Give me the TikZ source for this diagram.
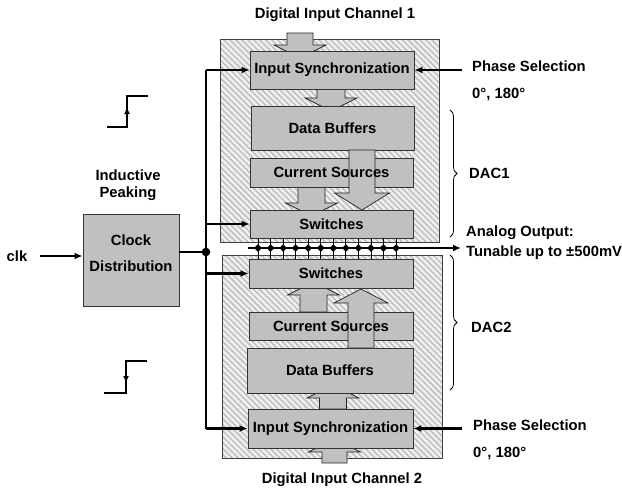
\documentclass[tikz,border=0pt]{standalone}
\usepackage{fontspec}
\setmainfont{Liberation Sans}
\usetikzlibrary{arrows.meta,patterns.meta,decorations.pathreplacing}
\definecolor{boxgray}{HTML}{C0C0C0}
\newcommand\blkarrow[6]{\draw[blk] ({#1-#5},{#2}) -- ({#1-#5},{#3}) -- ({#1-#6},{#3}) -- ({#1},{#4}) -- ({#1+#6},{#3}) -- ({#1+#5},{#3}) -- ({#1+#5},{#2}) -- cycle;}
\begin{document}
\begin{tikzpicture}[x=1pt,y=-1pt,
  every node/.style={font=\fontsize{14.8}{17.5}\selectfont\bfseries},
  outer/.style={draw=black!75, line width=0.8pt, preaction={fill=gray!12},
     pattern={Lines[angle=-45,distance=4.2pt,line width=1.5pt]}, pattern color=gray!50,
     inner sep=0, minimum width=#1},
  box/.style={draw=black!80, line width=0.8pt, fill=boxgray, inner sep=0},
  blk/.style={draw=black!85, line width=0.7pt, fill=boxgray, line join=miter},
  wire/.style={line width=2.3pt, -{Latex[length=8pt,width=7pt]}},
  thinwire/.style={line width=2.3pt},
  brace/.style={decorate, decoration={brace, amplitude=7pt}, line width=0.8pt},
  txt/.style={anchor=west, inner sep=0}]
\useasboundingbox[fill=white] (0,0) rectangle (622,493);

% outer hatched DAC blocks
\node[outer=219, minimum height=203] (dac1) at (329.5,140.5) {};
\node[outer=220, minimum height=203] (dac2) at (332,356.5) {};

% small block arrows (tips hidden by boxes)
\blkarrow{300}{33}{45}{58}{13}{26}
\blkarrow{331}{89}{98}{111}{14}{26}
\blkarrow{311.5}{187}{203}{216}{13.5}{26}
\blkarrow{313.5}{312}{295}{282}{13.5}{26}
\blkarrow{333}{409}{398}{385}{13.5}{26}
\blkarrow{334.5}{463}{452}{439}{12.5}{26}

% inner boxes
\node[box, minimum width=164, minimum height=38] (is1) at (332,70) {Input Synchronization};
\node[box, minimum width=163, minimum height=44] (db1) at (332.5,128) {Data Buffers};
\node[box, minimum width=163, minimum height=29] (cs1) at (331.5,172.5) {};
\node[box, minimum width=163, minimum height=28] (sw1) at (331.5,224) {Switches};
\node[box, minimum width=164, minimum height=29] (sw2) at (331,273.5) {Switches};
\node[box, minimum width=164, minimum height=28] (cs2) at (331,326) {};
\node[box, minimum width=166, minimum height=45] (db2) at (330,370.5) {Data Buffers};
\node[box, minimum width=165, minimum height=39] (is2) at (330.5,428.5) {Input Synchronization};

% big block arrows over current sources
\blkarrow{362}{150}{193}{210}{13}{27.5}
\blkarrow{361}{348}{303}{289}{13}{27}
\node at (cs1) {Current Sources};
\node at (cs2) {Current Sources};

% analog output bus
\coordinate (busL) at (248,248);
\coordinate (busR) at (461,248);
\foreach \i in {0,...,11}{
  \pgfmathsetmacro\xx{258+12.55*\i}
  \draw[line width=0.9pt] (\xx,238) -- (\xx,259);
}
\draw[wire] (busL) -- (busR);
\foreach \i in {0,...,11}{
  \pgfmathsetmacro\xx{258+12.55*\i}
  \fill (\xx-3.8,248) -- (\xx,244.2) -- (\xx+3.8,248) -- (\xx,251.8) -- cycle;
}

% clock distribution
\node[box, minimum width=96, minimum height=92] (cd) at (131,260) {};
\node[align=center] (cdt) at (131,253) {Clock\\[9pt]Distribution};
\node[align=center, inner sep=0] (ip) at (128,185) {Inductive\\[0pt]Peaking};
\node[inner sep=0] (clk) at (17,256) {clk};
\coordinate (clkin) at (40,256);
\draw[wire] (clkin) -- (cd.west |- clkin);
\coordinate (dot) at (206,252);
\coordinate (vtop) at (206,70);
\coordinate (vbot) at (206,428.5);
\draw[thinwire] (cd.east |- dot) -- (dot);
\draw[thinwire] (vtop) -- (vbot);
\fill (dot) circle (4.3);
\draw[wire] (vtop) -- (is1.west);
\draw[wire] (206,224) -- (sw1.west);
\draw[wire] (206,273.5) -- (sw2.west);
\draw[wire] (vbot) -- (is2.west);

% step waveforms
\draw[line width=2pt] (107,127) -- (127,127) -- (127,96) -- (148,96);
\draw[line width=2pt, -{Latex[length=7pt,width=6pt]}] (127,124) -- (127,107);
\draw[line width=2pt] (104,393) -- (126,393) -- (126,361) -- (147,361);
\draw[line width=2pt, -{Latex[length=7pt,width=6pt]}] (126,364) -- (126,383);

% phase selection
\coordinate (ps1) at (462,70);
\coordinate (ps2) at (462,428.5);
\draw[wire] (ps1) -- (is1.east);
\draw[wire] (ps2) -- (is2.east);
\node[txt] (pst1) at (472,66) {Phase Selection};
\node[txt] (pha1) at (472,94) {0°, 180°};
\node[txt] (pst2) at (473,425) {Phase Selection};
\node[txt] (pha2) at (473,453) {0°, 180°};

% braces
\draw[brace] (450,110) -- (450,237);
\draw[brace] (450,255) -- (450,390);
\node[txt] (d1) at (469,173) {DAC1};
\node[txt] (d2) at (471,327) {DAC2};
\node[txt] (ao) at (466,233) {Analog Output:};
\node[txt] (tu) at (466,253) {Tunable up to ±500mV};

% titles
\node (t1) at (335,15) {Digital Input Channel 1};
\node (t2) at (342,480) {Digital Input Channel 2};
\end{tikzpicture}
\end{document}
